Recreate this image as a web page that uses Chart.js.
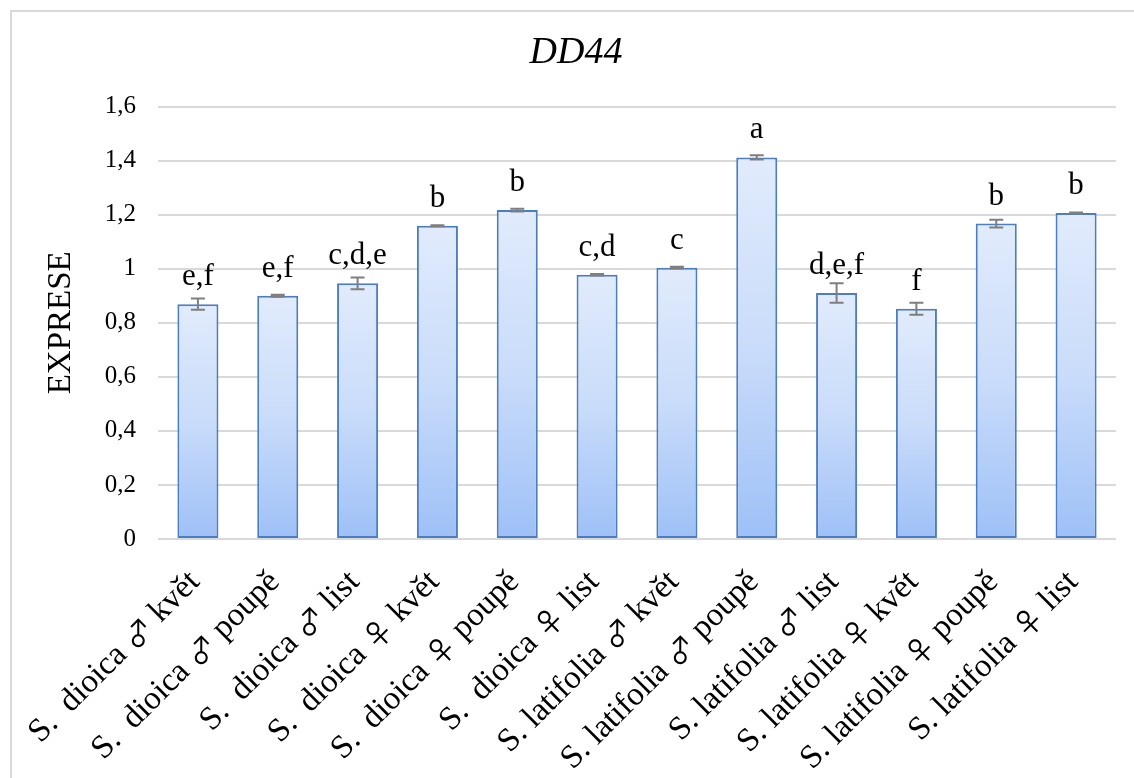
<!DOCTYPE html>
<html>
<head>
<meta charset="utf-8">
<script src="https://cdn.jsdelivr.net/npm/chart.js@4.4.1/dist/chart.umd.min.js"></script>
<style>
  html, body { margin: 0; padding: 0; background: #ffffff; }
  #wrap { width: 1134px; height: 778px; position: relative; }
</style>
</head>
<body>
<div id="wrap"><canvas id="c" width="1134" height="778"></canvas></div>
<script>
const categories = [
  "S.  dioica ♂ květ", "S.  dioica ♂ poupě", "S.  dioica ♂ list",
  "S.  dioica ♀ květ", "S.  dioica ♀ poupě", "S.  dioica ♀ list",
  "S. latifolia ♂ květ", "S. latifolia ♂ poupě", "S. latifolia ♂ list",
  "S. latifolia ♀ květ", "S. latifolia ♀ poupě", "S. latifolia ♀ list"
];
const values = [0.869, 0.900, 0.946, 1.159, 1.217, 0.978, 1.004, 1.412, 0.910, 0.852, 1.167, 1.206];
const errors = [0.021, 0.004, 0.022, 0.002, 0.005, 0.003, 0.003, 0.008, 0.036, 0.022, 0.014, 0.002];
const letters = ["e,f", "e,f", "c,d,e", "b", "b", "c,d", "c", "a", "d,e,f", "f", "b", "b"];
const yTicks = [0, 0.2, 0.4, 0.6, 0.8, 1, 1.2, 1.4, 1.6];

const SERIF = "'Liberation Serif', 'Times New Roman', 'DejaVu Serif', serif";
const SYM = "'Noto Sans CJK JP', 'DejaVu Sans', sans-serif";

const frame = {
  id: 'frame',
  beforeDraw(chart) {
    const c = chart.ctx;
    c.save();
    c.fillStyle = '#ffffff';
    c.fillRect(0, 0, chart.width, chart.height);
    c.strokeStyle = '#d9d9d9';
    c.lineWidth = 2;
    c.strokeRect(11, 11, 1300, 1300);
    c.restore();
  }
};

const extras = {
  id: 'extras',
  afterDatasetsDraw(chart) {
    const c = chart.ctx;
    const y = chart.scales.y;
    const xs = chart.scales.x;
    const meta = chart.getDatasetMeta(0);
    c.save();
    meta.data.forEach((el, i) => {
      const x = el.x;
      const v = values[i], e = errors[i];
      const yHi = y.getPixelForValue(v + e);
      const yLo = y.getPixelForValue(v - e);
      c.strokeStyle = '#7f7f7f';
      c.lineWidth = 2;
      c.beginPath();
      c.moveTo(x, yHi); c.lineTo(x, yLo);
      c.moveTo(x - 7, yHi); c.lineTo(x + 7, yHi);
      c.moveTo(x - 7, yLo); c.lineTo(x + 7, yLo);
      c.stroke();
      c.fillStyle = '#000000';
      c.font = '31px ' + SERIF;
      c.textAlign = 'center';
      c.textBaseline = 'alphabetic';
      c.fillText(letters[i], x, y.getPixelForValue(v) - 19);
    });
    // category labels, rotated 45 degrees, mixed fonts for the gender symbols
    categories.forEach((lab, i) => {
      const x = xs.getPixelForValue(i);
      const m = lab.match(/^(.*?)([♂♀])(.*)$/);
      const parts = m ? [[m[1], SERIF, 33], [m[2], SYM, 30], [m[3], SERIF, 33]] : [[lab, SERIF, 33]];
      let total = 0;
      const widths = parts.map(([t, f, s]) => { c.font = s + 'px ' + f; const w = c.measureText(t).width; total += w; return w; });
      c.save();
      c.translate(x - 3, xs.top + 38);
      c.rotate(-Math.PI / 4);
      c.fillStyle = '#000000';
      c.textAlign = 'left';
      c.textBaseline = 'middle';
      let pos = -total;
      parts.forEach(([t, f, s], k) => {
        c.font = s + 'px ' + f;
        c.fillText(t, pos, 0);
        pos += widths[k];
      });
      c.restore();
    });
    c.restore();
  }
};

new Chart(document.getElementById('c'), {
  type: 'bar',
  data: {
    labels: categories,
    datasets: [{
      data: values,
      borderColor: '#4a7dc2',
      borderWidth: 2,
      borderSkipped: false,
      categoryPercentage: 1,
      barPercentage: 0.514,
      backgroundColor: (ctx) => {
        const chart = ctx.chart;
        if (!chart.chartArea || !chart.scales.y || ctx.type !== 'data') return '#c4d8f9';
        const top = chart.scales.y.getPixelForValue(ctx.raw);
        const bottom = chart.scales.y.getPixelForValue(0);
        const g = chart.ctx.createLinearGradient(0, top, 0, bottom);
        g.addColorStop(0, '#e1ebfc');
        g.addColorStop(0.5, '#c9dcfa');
        g.addColorStop(1, '#9ec0f7');
        return g;
      }
    }]
  },
  options: {
    responsive: false,
    animation: false,
    layout: { padding: { top: 10, right: 18, left: 36, bottom: 0 } },
    plugins: {
      legend: { display: false },
      tooltip: { enabled: false },
      title: {
        display: true,
        text: 'DD44',
        color: '#000000',
        font: { family: SERIF, size: 38, style: 'italic', weight: 'normal', lineHeight: 1.2 },
        padding: { top: 20, bottom: 31 }
      }
    },
    scales: {
      x: {
        grid: { display: false, drawTicks: false },
        border: { display: false },
        ticks: { display: false, autoSkip: false },
        afterFit(scale) { scale.height = 239; }
      },
      y: {
        min: 0,
        max: 1.6,
        afterBuildTicks(scale) { scale.ticks = yTicks.map(v => ({ value: v })); },
        grid: { color: '#d9d9d9', lineWidth: 2, drawTicks: false },
        border: { display: false },
        ticks: {
          color: '#000000',
          font: { family: SERIF, size: 25 },
          padding: 22,
          callback: (v) => String(Math.round(v * 10) / 10).replace('.', ',')
        },
        title: {
          display: true,
          text: 'EXPRESE',
          color: '#000000',
          font: { family: SERIF, size: 33 },
          padding: { top: 6, bottom: 0 }
        },
        afterFit(scale) { scale.width = 122; }
      }
    }
  },
  plugins: [frame, extras]
});
</script>
</body>
</html>
